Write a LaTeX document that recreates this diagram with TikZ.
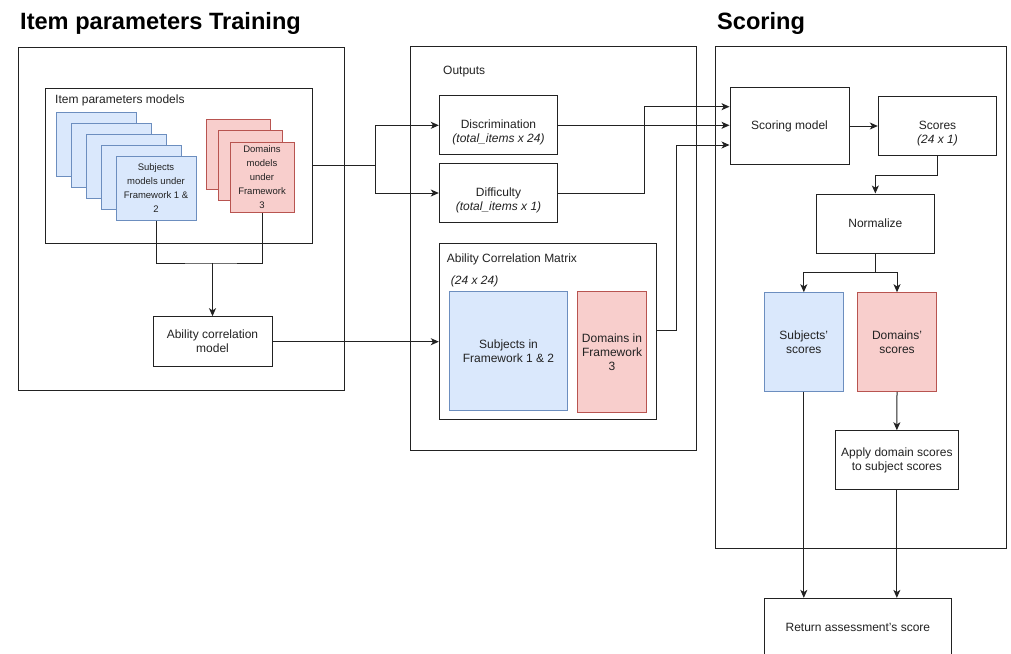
\documentclass[tikz,border=0pt]{standalone}
\usepackage{fontspec}
\setmainfont{Liberation Sans}
\usetikzlibrary{arrows.meta}

\definecolor{bluefill}{HTML}{DAE8FC}
\definecolor{bluedraw}{HTML}{6C8EBF}
\definecolor{redfill}{HTML}{F8CECC}
\definecolor{reddraw}{HTML}{B85450}
\definecolor{ink}{HTML}{222222}

\tikzset{
  panel/.style={draw=ink, line width=1pt, fill=white, inner sep=0pt},
  box/.style={draw=ink, line width=1pt, fill=white, inner sep=0pt, align=center,
              font=\fontsize{12}{14}\selectfont, text=ink},
  bluebox/.style={box, draw=bluedraw, fill=bluefill},
  redbox/.style={box, draw=reddraw, fill=redfill},
  card/.style={font=\fontsize{9.5}{14}\selectfont},
  lbl/.style={anchor=west, inner sep=0pt, font=\fontsize{12}{14}\selectfont, text=ink},
  title/.style={anchor=base west, inner sep=0pt, font=\fontsize{23.6}{27}\selectfont\bfseries},
  wire/.style={draw=ink, line width=1pt},
  arr/.style={wire, -{Stealth[length=8pt,width=7pt,inset=2.2pt]}},
}

\begin{document}
\begin{tikzpicture}[x=1pt, y=-1pt]
\useasboundingbox[fill=white] (0,0) rectangle (1011,653);

% headings
\node[title] (t1) at (20,29) {Item parameters Training};
\node[title] (t2) at (717,29) {Scoring};

% ---------- training panel ----------
\node[panel, minimum width=326, minimum height=343] (train) at (181,218.5) {};
\node[panel, minimum width=267, minimum height=155] (models) at (178.5,165.5) {};
\node[lbl] (modelslbl) at (55,100) {Item parameters models};

% stacked subject model cards
\foreach \cx/\cy [count=\i] in {96.7/144.7, 111.7/155.3, 126.7/166, 141.7/177}
  \node[bluebox, minimum width=80, minimum height=64] (sub\i) at (\cx,\cy) {};
\node[bluebox, card, minimum width=80, minimum height=64] (sub5) at (156,188)
  {Subjects\\models under\\Framework 1 \&\\2};

% stacked domain model cards
\node[redbox, minimum width=64, minimum height=70] (dom1) at (238,154.3) {};
\node[redbox, minimum width=64, minimum height=70] (dom2) at (250.3,165.7) {};
\node[redbox, card, minimum width=64, minimum height=70] (dom3) at (262,177.3)
  {Domains\\models\\under\\Framework\\3};

\node[box, minimum width=119, minimum height=50] (abil) at (212.5,341.7)
  {Ability correlation\\model};

\coordinate (j1) at (212.5,263);
\draw[wire] (sub5.south) |- (j1) -| (dom3.south);
\draw[arr] (j1) -- (abil.north);

% ---------- outputs panel ----------
\node[panel, minimum width=286, minimum height=403.5] (outputs) at (553,248.25) {};
\node[lbl] (outlbl) at (443,71.7) {Outputs};

% first line sits on the box centre, the size line below it
\node[box, minimum width=118.4, minimum height=59.3] (disc) at (498.5,125.3)
  {\strut\\Discrimination\\\textit{(total\_items x 24)}};
\node[box, minimum width=118.4, minimum height=59.4] (diff) at (498.5,193)
  {\strut\\Difficulty\\\textit{(total\_items x 1)}};

\node[panel, minimum width=217.4, minimum height=175.7] (matrix) at (548,331.2) {};
\node[lbl] (matlbl) at (446.7,259) {Ability Correlation Matrix};
\node[lbl] (matdim) at (450.7,281.7) {\textit{(24 x 24)}};
\node[bluebox, minimum width=118.4, minimum height=118.3] (msub) at (508.5,350.85)
  {Subjects in\\Framework 1 \& 2};
\node[redbox, minimum width=69.4, minimum height=120.6] (mdom) at (612,352)
  {Domains in\\Framework\\3};

\coordinate (j2) at (375.3,165.5);
\draw[wire] (models.east) -- (j2);
\draw[arr] (j2) |- (disc.west);
\draw[arr] (j2) |- (diff.west);
\draw[arr] (abil.east) -- (abil.east -| matrix.west);

% ---------- scoring panel ----------
\node[panel, minimum width=291, minimum height=501.6] (scoring) at (861.2,297.5) {};
\node[box, minimum width=119, minimum height=77.4] (scm) at (789.5,126) {Scoring model};
\node[box, minimum width=118.4, minimum height=59] (scores) at (937.5,126.2)
  {\strut\\Scores\\\textit{(24 x 1)}};
\node[box, minimum width=118.7, minimum height=59.3] (norm) at (875.35,223.65) {Normalize};
\node[bluebox, minimum width=79, minimum height=98.6] (ssub) at (803.8,342)
  {Subjects'\\scores};
\node[redbox, minimum width=79.4, minimum height=98.6] (sdom) at (897,342)
  {Domains'\\scores};
\node[box, minimum width=123.7, minimum height=58.6] (apply) at (896.85,460)
  {Apply domain scores\\to subject scores};
\node[box, minimum width=187.7, minimum height=57.7] (ret) at (857.85,627.2)
  {Return assessment's score};

% outputs into the scoring model
\draw[arr] (disc.east) -- (disc.east -| scm.west);
\draw[arr] (diff.east) -- (644,193) |- (scm.west |- 0,106.7);
\draw[arr] (matrix.east |- 0,330.7) -- (676,330.7) |- (scm.west |- 0,145);

% scoring flow
\draw[arr] (scm.east) -- (scm.east -| scores.west);
\draw[arr] (scores.south) |- (875.35,175) -- (norm.north);
\coordinate (j3) at (875.35,272.7);
\draw[wire] (norm.south) -- (j3);
\draw[arr] (j3) -| (ssub.north);
\draw[arr] (j3) -| (sdom.north);
\draw[arr] (sdom.south) -- (apply.north);
\draw[arr] (ssub.south) -- (ssub.south |- ret.north);
\draw[arr] (apply.south) -- (apply.south |- ret.north);
\end{tikzpicture}
\end{document}
